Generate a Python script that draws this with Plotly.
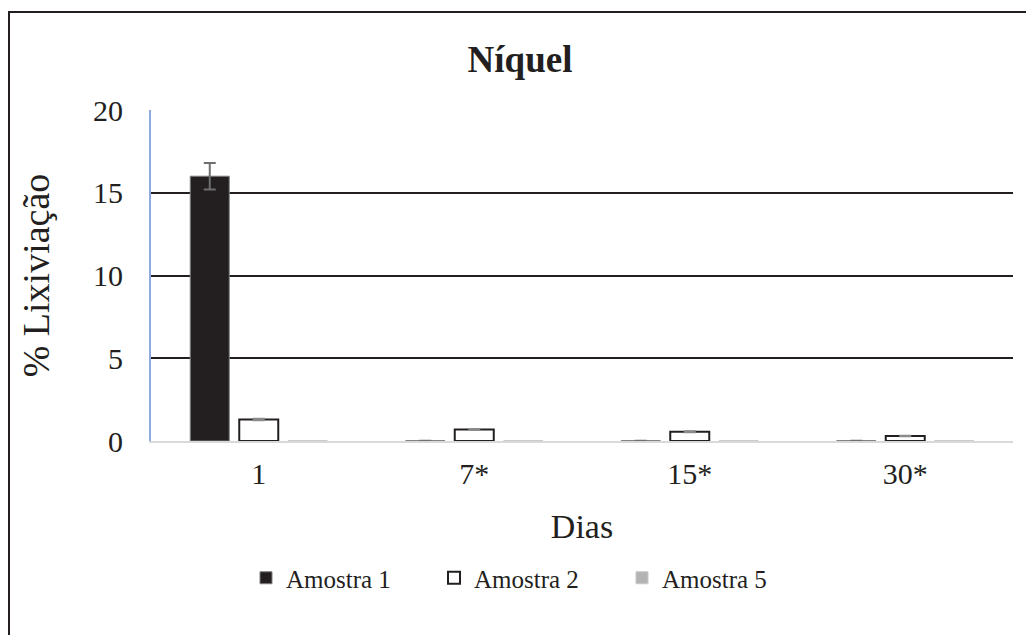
import plotly.graph_objects as go

categories = ["1", "7*", "15*", "30*"]
amostra1 = [16.0, 0.02, 0.02, 0.02]
amostra1_err = [0.8, 0.0, 0.0, 0.0]
amostra2 = [1.3, 0.7, 0.56, 0.3]
amostra2_err = [0.05, 0.03, 0.03, 0.02]
amostra5 = [0.02, 0.02, 0.02, 0.02]
y_ticks = [0, 5, 10, 15, 20]

FONT = "Liberation Serif, Times New Roman, serif"
W, H = 1018, 627
L, R, T, B = 143, 13, 102, 194
PW, PH = W - L - R, H - T - B

fig = go.Figure()
fig.add_trace(go.Bar(
    name="Amostra 1", x=categories, y=amostra1,
    marker=dict(color="#231f20", line=dict(color="#7f7f7f", width=1)),
    error_y=dict(type="data", array=amostra1_err, color="#6f6f6f", thickness=2, width=6),
))
fig.add_trace(go.Bar(
    name="Amostra 2", x=categories, y=amostra2,
    marker=dict(color="white", line=dict(color="#231f20", width=2)),
    error_y=dict(type="data", array=amostra2_err, color="#8a8a8a", thickness=2, width=6),
))
fig.add_trace(go.Bar(
    name="Amostra 5", x=categories, y=amostra5,
    marker=dict(color="#b3b3b3", line=dict(color="#c8c8c8", width=1)),
))

fig.update_layout(
    width=W, height=H,
    margin=dict(l=L, r=R, t=T, b=B),
    paper_bgcolor="white", plot_bgcolor="white",
    font=dict(family=FONT, color="#231f20"),
    barmode="group", bargap=0.318, bargroupgap=0.204,
    title=dict(text="<b>Níquel</b>", x=(520 - 8) / W, xanchor="center",
               yref="container", y=1 - (59 - 8) / H, yanchor="middle",
               font=dict(size=37, family=FONT, color="#231f20")),
    legend=dict(orientation="h", x=(246 - 8 - L) / PW, xanchor="left",
                y=(441 - 578) / PH, yanchor="middle",
                font=dict(size=25, family=FONT, color="#231f20"),
                entrywidth=143, entrywidthmode="pixels",
                traceorder="normal"),
    showlegend=True,
)
fig.update_xaxes(
    type="category", showgrid=False, showline=True, linecolor="#d9d9d9", linewidth=2,
    ticks="", tickfont=dict(size=30, family=FONT, color="#231f20"),
    ticklabelstandoff=5,
    title=dict(text="Dias", font=dict(size=34, family=FONT, color="#231f20"), standoff=25),
)
fig.update_yaxes(
    range=[0, 20], tickvals=y_ticks, showgrid=True, gridcolor="#231f20", gridwidth=2,
    zeroline=False, showline=True, linecolor="#8faadc", linewidth=2, ticks="",
    tickfont=dict(size=30, family=FONT, color="#231f20"), ticklabelstandoff=20,
    title=dict(text="% Lixiviação", font=dict(size=38, family=FONT, color="#231f20"), standoff=32),
)

fig.add_shape(type="rect", xref="paper", yref="paper",
              x0=(1 - L) / PW, x1=1.2, y0=-0.8, y1=(H - B - 4) / PH,
              line=dict(color="#231f20", width=2), fillcolor="rgba(0,0,0,0)", layer="below")

fig.write_html("out.html")
